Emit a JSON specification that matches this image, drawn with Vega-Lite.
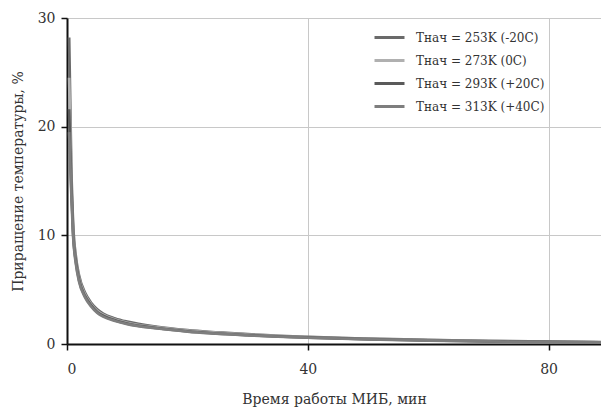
{
  "$schema": "https://vega.github.io/schema/vega-lite/v6.json",
  "autosize": "none",
  "width": 534,
  "height": 326,
  "padding": {"left": 67, "top": 18, "right": 0, "bottom": 65},
  "background": "white",
  "config": {"view": {"stroke": null}},
  "data": {"values": [
    {"s": "Тнач = 253K (-20C)", "t": 0.35, "v": 28.2},
    {"s": "Тнач = 253K (-20C)", "t": 0.7, "v": 16.5},
    {"s": "Тнач = 253K (-20C)", "t": 1, "v": 11.2},
    {"s": "Тнач = 253K (-20C)", "t": 1.5, "v": 7.9},
    {"s": "Тнач = 253K (-20C)", "t": 2, "v": 6.3},
    {"s": "Тнач = 253K (-20C)", "t": 3, "v": 4.7},
    {"s": "Тнач = 253K (-20C)", "t": 4, "v": 3.8},
    {"s": "Тнач = 253K (-20C)", "t": 5, "v": 3.2},
    {"s": "Тнач = 253K (-20C)", "t": 6, "v": 2.8},
    {"s": "Тнач = 253K (-20C)", "t": 8, "v": 2.35},
    {"s": "Тнач = 253K (-20C)", "t": 10, "v": 2.05},
    {"s": "Тнач = 253K (-20C)", "t": 15, "v": 1.58},
    {"s": "Тнач = 253K (-20C)", "t": 20, "v": 1.27},
    {"s": "Тнач = 253K (-20C)", "t": 30, "v": 0.9},
    {"s": "Тнач = 253K (-20C)", "t": 40, "v": 0.65},
    {"s": "Тнач = 253K (-20C)", "t": 50, "v": 0.49},
    {"s": "Тнач = 253K (-20C)", "t": 60, "v": 0.37},
    {"s": "Тнач = 253K (-20C)", "t": 70, "v": 0.29},
    {"s": "Тнач = 253K (-20C)", "t": 80, "v": 0.22},
    {"s": "Тнач = 253K (-20C)", "t": 90, "v": 0.17},
    {"s": "Тнач = 273K (0C)", "t": 0.35, "v": 24.5},
    {"s": "Тнач = 273K (0C)", "t": 0.7, "v": 15.5},
    {"s": "Тнач = 273K (0C)", "t": 1, "v": 10.8},
    {"s": "Тнач = 273K (0C)", "t": 1.5, "v": 7.7},
    {"s": "Тнач = 273K (0C)", "t": 2, "v": 6.1},
    {"s": "Тнач = 273K (0C)", "t": 3, "v": 4.55},
    {"s": "Тнач = 273K (0C)", "t": 4, "v": 3.65},
    {"s": "Тнач = 273K (0C)", "t": 5, "v": 3.05},
    {"s": "Тнач = 273K (0C)", "t": 6, "v": 2.7},
    {"s": "Тнач = 273K (0C)", "t": 8, "v": 2.25},
    {"s": "Тнач = 273K (0C)", "t": 10, "v": 1.95},
    {"s": "Тнач = 273K (0C)", "t": 15, "v": 1.52},
    {"s": "Тнач = 273K (0C)", "t": 20, "v": 1.22},
    {"s": "Тнач = 273K (0C)", "t": 30, "v": 0.86},
    {"s": "Тнач = 273K (0C)", "t": 40, "v": 0.62},
    {"s": "Тнач = 273K (0C)", "t": 50, "v": 0.46},
    {"s": "Тнач = 273K (0C)", "t": 60, "v": 0.35},
    {"s": "Тнач = 273K (0C)", "t": 70, "v": 0.27},
    {"s": "Тнач = 273K (0C)", "t": 80, "v": 0.2},
    {"s": "Тнач = 273K (0C)", "t": 90, "v": 0.15},
    {"s": "Тнач = 293K (+20C)", "t": 0.35, "v": 21.6},
    {"s": "Тнач = 293K (+20C)", "t": 0.7, "v": 14.8},
    {"s": "Тнач = 293K (+20C)", "t": 1, "v": 10.4},
    {"s": "Тнач = 293K (+20C)", "t": 1.5, "v": 7.5},
    {"s": "Тнач = 293K (+20C)", "t": 2, "v": 5.9},
    {"s": "Тнач = 293K (+20C)", "t": 3, "v": 4.4},
    {"s": "Тнач = 293K (+20C)", "t": 4, "v": 3.55},
    {"s": "Тнач = 293K (+20C)", "t": 5, "v": 2.95},
    {"s": "Тнач = 293K (+20C)", "t": 6, "v": 2.6},
    {"s": "Тнач = 293K (+20C)", "t": 8, "v": 2.17},
    {"s": "Тнач = 293K (+20C)", "t": 10, "v": 1.88},
    {"s": "Тнач = 293K (+20C)", "t": 15, "v": 1.46},
    {"s": "Тнач = 293K (+20C)", "t": 20, "v": 1.17},
    {"s": "Тнач = 293K (+20C)", "t": 30, "v": 0.82},
    {"s": "Тнач = 293K (+20C)", "t": 40, "v": 0.6},
    {"s": "Тнач = 293K (+20C)", "t": 50, "v": 0.44},
    {"s": "Тнач = 293K (+20C)", "t": 60, "v": 0.33},
    {"s": "Тнач = 293K (+20C)", "t": 70, "v": 0.25},
    {"s": "Тнач = 293K (+20C)", "t": 80, "v": 0.19},
    {"s": "Тнач = 293K (+20C)", "t": 90, "v": 0.14},
    {"s": "Тнач = 313K (+40C)", "t": 0.35, "v": 19.5},
    {"s": "Тнач = 313K (+40C)", "t": 0.7, "v": 14.2},
    {"s": "Тнач = 313K (+40C)", "t": 1, "v": 10.1},
    {"s": "Тнач = 313K (+40C)", "t": 1.5, "v": 7.3},
    {"s": "Тнач = 313K (+40C)", "t": 2, "v": 5.75},
    {"s": "Тнач = 313K (+40C)", "t": 3, "v": 4.3},
    {"s": "Тнач = 313K (+40C)", "t": 4, "v": 3.45},
    {"s": "Тнач = 313K (+40C)", "t": 5, "v": 2.88},
    {"s": "Тнач = 313K (+40C)", "t": 6, "v": 2.52},
    {"s": "Тнач = 313K (+40C)", "t": 8, "v": 2.12},
    {"s": "Тнач = 313K (+40C)", "t": 10, "v": 1.83},
    {"s": "Тнач = 313K (+40C)", "t": 15, "v": 1.43},
    {"s": "Тнач = 313K (+40C)", "t": 20, "v": 1.14},
    {"s": "Тнач = 313K (+40C)", "t": 30, "v": 0.8},
    {"s": "Тнач = 313K (+40C)", "t": 40, "v": 0.58},
    {"s": "Тнач = 313K (+40C)", "t": 50, "v": 0.43},
    {"s": "Тнач = 313K (+40C)", "t": 60, "v": 0.32},
    {"s": "Тнач = 313K (+40C)", "t": 70, "v": 0.24},
    {"s": "Тнач = 313K (+40C)", "t": 80, "v": 0.18},
    {"s": "Тнач = 313K (+40C)", "t": 90, "v": 0.13}
  ]},
  "mark": {"type": "line", "strokeWidth": 2.8, "interpolate": "monotone", "clip": true},
  "encoding": {
    "x": {
      "field": "t", "type": "quantitative",
      "scale": {"domain": [0, 88.7], "nice": false},
      "axis": {
        "values": [0, 40, 80], "title": "Время работы МИБ, мин",
        "titleFont": "DejaVu Serif", "titleFontSize": 14, "titleFontWeight": "normal", "titleColor": "#333",
        "titlePadding": 16,
        "labelFont": "DejaVu Serif", "labelFontSize": 14, "labelColor": "#333", "labelPadding": 12,
        "domainColor": "#111", "domainWidth": 2, "tickColor": "#111", "tickWidth": 1.5, "tickSize": 6,
        "grid": true, "gridColor": "#c8c8c8", "gridWidth": 1
      }
    },
    "y": {
      "field": "v", "type": "quantitative",
      "scale": {"domain": [0, 30], "nice": false},
      "axis": {
        "values": [0, 10, 20, 30], "title": "Приращение температуры, %",
        "titleFont": "DejaVu Serif", "titleFontSize": 14, "titleFontWeight": "normal", "titleColor": "#333",
        "titlePadding": 12,
        "labelFont": "DejaVu Serif", "labelFontSize": 14, "labelColor": "#333", "labelPadding": 6,
        "domainColor": "#111", "domainWidth": 2, "tickColor": "#111", "tickWidth": 1.5, "tickSize": 6,
        "grid": true, "gridColor": "#c8c8c8", "gridWidth": 1
      }
    },
    "color": {
      "field": "s", "type": "nominal",
      "scale": {
        "domain": ["Тнач = 253K (-20C)", "Тнач = 273K (0C)", "Тнач = 293K (+20C)", "Тнач = 313K (+40C)"],
        "range": ["#6a6a6a", "#b0b0b0", "#5a5a5a", "#7e7e7e"]
      },
      "legend": {
        "title": null, "orient": "none", "legendX": 304, "legendY": 1,
        "padding": 2, "fillColor": "white", "strokeColor": null,
        "symbolType": "stroke", "symbolSize": 900, "symbolStrokeWidth": 3,
        "labelFont": "DejaVu Serif", "labelFontSize": 12, "labelColor": "#333",
        "labelExpr": "datum.label + '\u00a0\u00a0'",
        "labelOffset": 10, "rowPadding": -8.5
      }
    }
  }
}
